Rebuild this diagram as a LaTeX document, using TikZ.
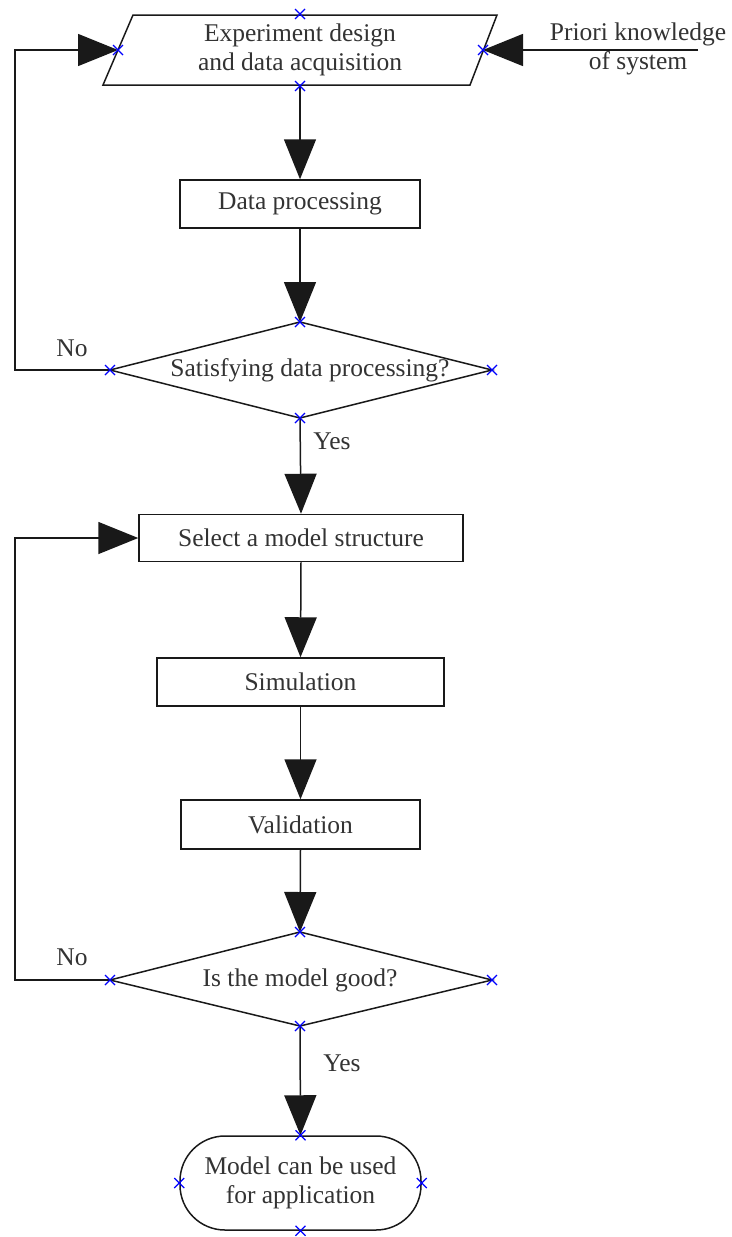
\documentclass[tikz,border=0pt]{standalone}
\usepackage{fontspec}
\setmainfont{Liberation Serif}
\usetikzlibrary{arrows.meta}
\begin{document}
\begin{tikzpicture}[x=1pt,y=-1pt,
  line/.style={line width=1.5pt, draw=black!90},
  flow/.style={line, -{Triangle[length=40pt,width=32pt]}},
  txt/.style={text=black!80, font=\fontsize{25.5}{29}\selectfont, inner sep=0pt, align=center},
  box/.style={txt, draw=black!90, line width=1.5pt},
  cpt/.pic={\draw[blue, line width=1.2pt] (-5,-5) -- (5,5) (-5,5) -- (5,-5);}
]
\useasboundingbox (0,0) rectangle (731,1237);

% experiment design (parallelogram)
\draw[line] (133,15) -- (497,15) -- (470,85) -- (103,85) -- cycle;
\node[txt] (exp) at (300,50) {Experiment design\\and data acquisition};
\coordinate (expT) at (300,14);
\coordinate (expB) at (300,86);
\coordinate (expL) at (118,50);
\coordinate (expR) at (483,50);

% prior knowledge input
\node[txt] (prior) at (638,49) {Priori knowledge\\of system};
\coordinate (src) at (698,50);

% processing steps
\node[box, minimum width=240pt, minimum height=48pt] (dp) at (300,204) {Data processing};

% first decision
\draw[line] (300,322) -- (492,370) -- (300,418) -- (110,370) -- cycle;
\node[txt] (d1) at (310,370) {Satisfying data processing?};
\coordinate (d1T) at (300,322);
\coordinate (d1B) at (300,418);
\coordinate (d1L) at (110,370);
\coordinate (d1R) at (492,370);

\node[box, minimum width=324pt, minimum height=47pt] (sel) at (301,538) {Select a model structure};
\node[box, minimum width=287pt, minimum height=48pt] (sim) at (300.5,682) {Simulation};
\node[box, minimum width=239pt, minimum height=49pt] (val) at (300.5,824.5) {Validation};

% second decision
\draw[line] (300,932) -- (492,980) -- (300,1026) -- (110,980) -- cycle;
\node[txt] (d2) at (300,980) {Is the model good?};
\coordinate (d2T) at (300,932);
\coordinate (d2B) at (300,1026);
\coordinate (d2L) at (110,980);
\coordinate (d2R) at (492,980);

% terminal
\node[box, minimum width=241pt, minimum height=94pt, rounded corners=45pt] (end) at (300.5,1183) {Model can be used\\for application};

% connectors
\draw[flow] (src) -- (expR);
\draw[flow] (expB) -- (dp.north);
\draw[flow] (dp.south) -- (d1T);
\draw[flow] (d1B) -- (sel.north);
\draw[flow] (d1L) -- ++(-95,0) |- (expL);
\draw[flow] (sel.south) -- (sim.north);
\draw[flow] (sim.south) -- (val.north);
\draw[flow] (val.south) -- (d2T);
\draw[flow] (d2B) -- (end.north);
\draw[flow] (d2L) -- ++(-95,0) |- (sel.west);

% branch labels
\node[txt] (no1) at (72,348) {No};
\node[txt] (yes1) at (332,441) {Yes};
\node[txt] (no2) at (72,957) {No};
\node[txt] (yes2) at (342,1063) {Yes};

% connection points
\foreach \p in {expT,expB,expL,expR,d1T,d1B,d1L,d1R,d2T,d2B,d2L,d2R,end.north,end.south,end.west,end.east}
  \pic at (\p) {cpt};
\end{tikzpicture}
\end{document}
